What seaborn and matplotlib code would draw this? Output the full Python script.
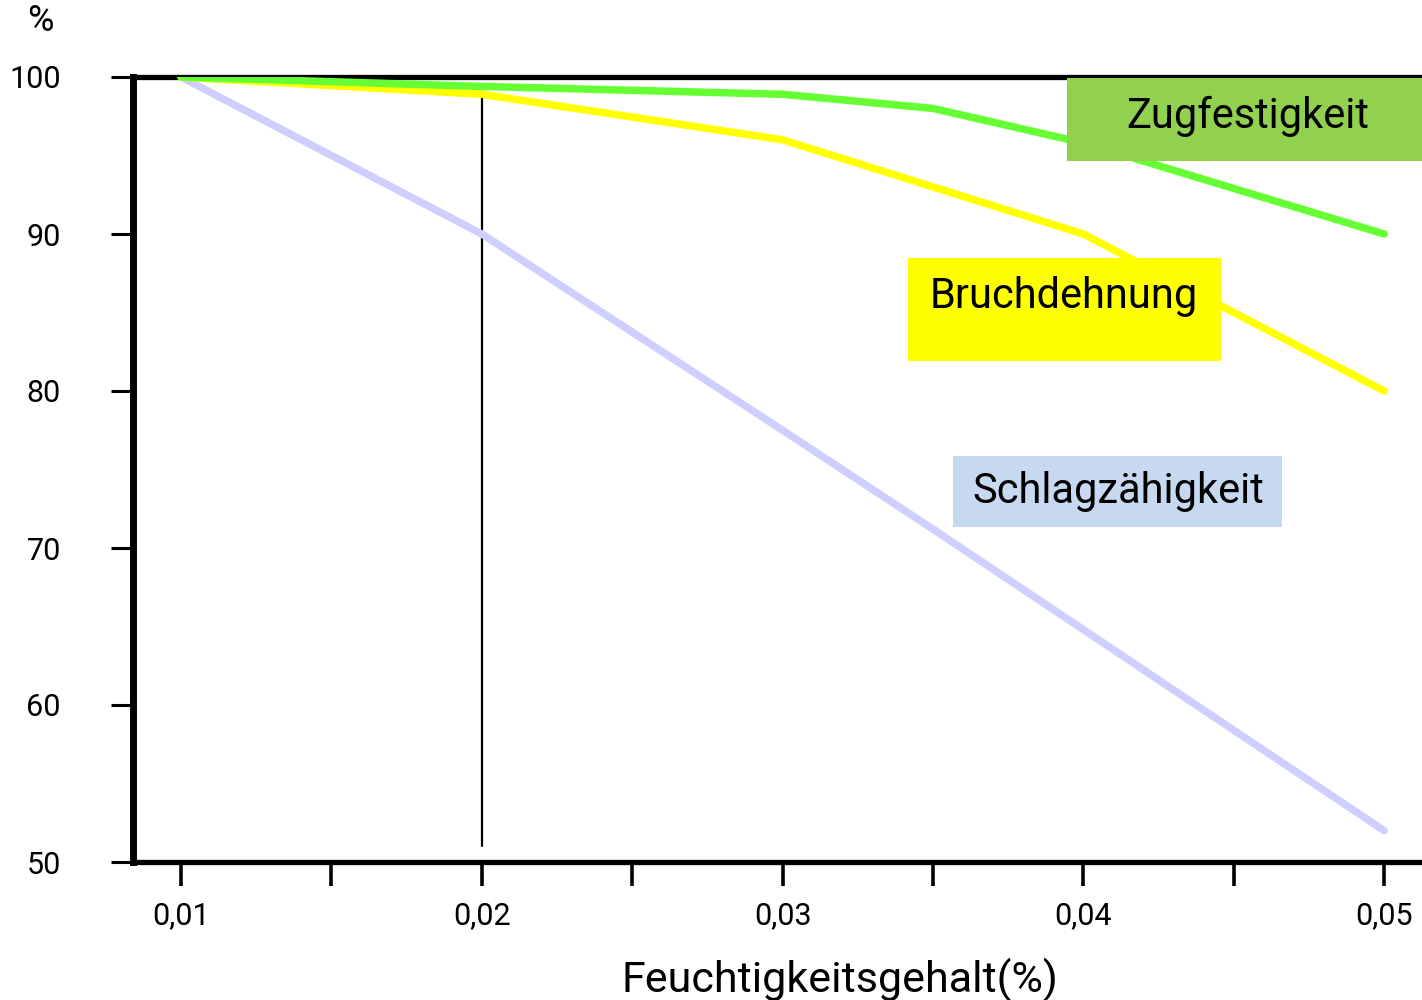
import matplotlib
matplotlib.use("Agg")
import matplotlib.pyplot as plt
from matplotlib.patches import Rectangle
from matplotlib.ticker import FixedLocator
import seaborn as sns
import pandas as pd

# ---- data ----
moisture = [0.01, 0.02, 0.03, 0.035, 0.04, 0.05]
zugfestigkeit = [100, 99.4, 98.9, 98.0, 95.8, 90]
bruchdehnung = [100, 98.9, 96.0, 93.0, 90.0, 80]
schlagzaehigkeit = [100, 90.0, 77.5, 71.2, 64.8, 52]
series_names = ["Zugfestigkeit", "Bruchdehnung", "Schlagzähigkeit"]
x_ticks = [0.01, 0.02, 0.03, 0.04, 0.05]
x_tick_labels = ["0,01", "0,02", "0,03", "0,04", "0,05"]
x_minor = [0.015, 0.025, 0.035, 0.045]
y_ticks = [50, 60, 70, 80, 90, 100]
ref_x = 0.02
ref_y = [51, 99]

df = pd.DataFrame({
    "x": moisture * 3,
    "y": zugfestigkeit + bruchdehnung + schlagzaehigkeit,
    "s": [series_names[0]] * 6 + [series_names[1]] * 6 + [series_names[2]] * 6,
})
line_colors = {"Zugfestigkeit": "#66ff33", "Bruchdehnung": "#ffff00",
               "Schlagzähigkeit": "#cfcfff"}
box_colors = {"Zugfestigkeit": "#92d050", "Bruchdehnung": "#ffff00",
              "Schlagzähigkeit": "#c6d9f1"}

sns.set_theme(style="white")
plt.rcParams["font.family"] = ["Roboto", "DejaVu Sans"]

W, H = 1422, 1000
fig = plt.figure(figsize=(W / 100, H / 100), dpi=100)
ax = fig.add_axes([133 / W, 138 / H, 1 - 133 / W, 785 / H])

sns.lineplot(data=df, x="x", y="y", hue="s", hue_order=series_names[::-1],
             palette=line_colors, linewidth=5.4, legend=False, ax=ax,
             solid_capstyle="round", zorder=3)
ax.plot([ref_x, ref_x], ref_y, color="black", linewidth=1.6, zorder=2)

ax.set_xlim(0.0084, 0.05126)
ax.set_ylim(50, 100)

for side in ["left", "bottom", "top"]:
    ax.spines[side].set_visible(True)
    ax.spines[side].set_color("black")
ax.spines["right"].set_visible(False)
ax.spines["left"].set_linewidth(5)
ax.spines["bottom"].set_linewidth(3.8)
ax.spines["top"].set_linewidth(3.8)

ax.set_xticks(x_ticks)
ax.set_xticklabels(x_tick_labels)
ax.xaxis.set_minor_locator(FixedLocator(x_minor))
ax.set_yticks(y_ticks)
ax.set_yticklabels([str(v) for v in y_ticks])

ax.tick_params(axis="x", which="both", direction="out", bottom=True,
               length=17, width=2.6, color="black", labelsize=22, pad=11,
               labelcolor="black")
ax.tick_params(axis="y", which="major", direction="out", left=True,
               length=16, width=2.2, color="black", labelsize=22, pad=36,
               labelcolor="black")
for lbl in ax.get_yticklabels():
    lbl.set_horizontalalignment("right")

ax.set_xlabel("Feuchtigkeitsgehalt(%)", fontsize=31, color="black")
ax.xaxis.set_label_coords((840 - 133) / 1289, -(958 - 862) / 785)
ax.set_ylabel("")

fig.text(40 / W, 1 - 21 / H, "%", fontsize=26, ha="center", va="center",
         color="black")

# label boxes (figure pixel coordinates)
def box(x0, y0, x1, y1, color, text, tx, ty):
    fig.patches.append(Rectangle((x0 / W, 1 - y1 / H), (x1 - x0) / W,
                                 (y1 - y0) / H, transform=fig.transFigure,
                                 facecolor=color, edgecolor="none", zorder=5))
    fig.text(tx / W, 1 - ty / H, text, fontsize=30, ha="center", va="center",
             color="black", zorder=6)

box(1067, 78, 1422, 161, box_colors["Zugfestigkeit"], "Zugfestigkeit", 1248, 116)
box(908, 258, 1221, 361, box_colors["Bruchdehnung"], "Bruchdehnung", 1064, 297)
box(953, 456, 1282, 527, box_colors["Schlagzähigkeit"], "Schlagzähigkeit", 1118, 492)

fig.savefig("out.png", dpi=100)
